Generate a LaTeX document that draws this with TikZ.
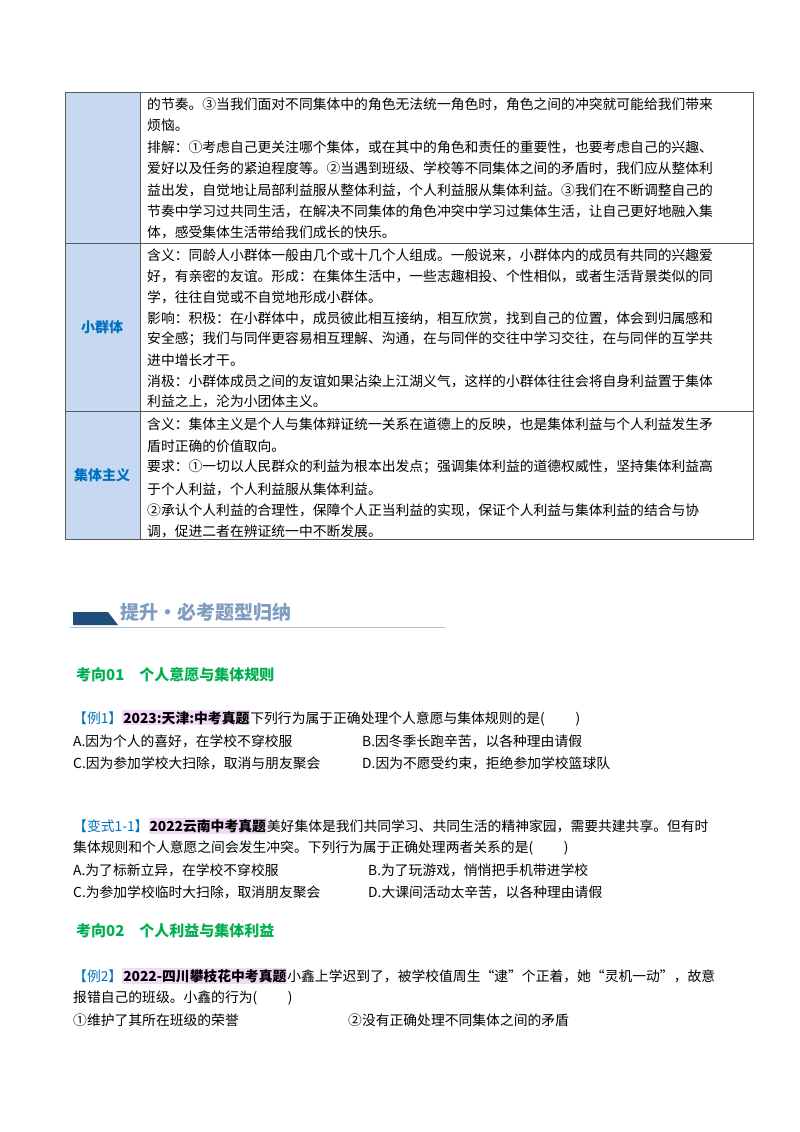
\documentclass[tikz,border=0pt]{standalone}
\usepackage{fontspec}
\setmainfont{Noto Sans CJK SC}
\definecolor{cellblue}{HTML}{C6D9F0}
\definecolor{lblblue}{HTML}{0070C0}
\definecolor{kgreen}{HTML}{00B050}
\definecolor{hdblue}{HTML}{1F4E79}
\definecolor{hdtext}{HTML}{7F9DBE}
\definecolor{hilite}{HTML}{F2D9F7}
\begin{document}
\begin{tikzpicture}[x=1pt,y=-1pt]

  \tikzstyle{line}=[anchor=west,inner sep=0pt,font=\fontsize{13.8}{14}\selectfont]
  \tikzstyle{lbl}=[font=\fontsize{14}{15}\selectfont\bfseries,text=lblblue]
  \tikzstyle{kx}=[anchor=west,inner sep=0pt,font=\fontsize{15}{16}\selectfont\bfseries,text=kgreen]
  \tikzstyle{src}=[inner sep=1pt,fill=hilite,font=\bfseries]

  \useasboundingbox[fill=white] (0,0) rectangle (800,1132);

  % table
  \fill[cellblue] (65,92) rectangle (140,539);
  \draw[gray!70!black,line width=0.8pt] (65,92) rectangle (753,539);
  \draw[gray!70!black] (140,92) -- (140,539);
  \draw[gray!70!black] (65,243) -- (753,243);
  \draw[gray!70!black] (65,411) -- (753,411);

  \node[lbl] (L-2) at (102,327) {小群体};
  \node[lbl] (L-3) at (102,475) {集体主义};

  \foreach \y/\t in {104/{的节奏。③当我们面对不同集体中的角色无法统一角色时，角色之间的冲突就可能给我们带来},
                     125/{烦恼。},
                     147/{排解：①考虑自己更关注哪个集体，或在其中的角色和责任的重要性，也要考虑自己的兴趣、},
                     168/{爱好以及任务的紧迫程度等。②当遇到班级、学校等不同集体之间的矛盾时，我们应从整体利},
                     190/{益出发，自觉地让局部利益服从整体利益，个人利益服从集体利益。③我们在不断调整自己的},
                     211/{节奏中学习过共同生活，在解决不同集体的角色冲突中学习过集体生活，让自己更好地融入集},
                     232/{体，感受集体生活带给我们成长的快乐。}}
    \node[line] at (147,\y) {\t};

  \foreach \y/\t in {255/{含义：同龄人小群体一般由几个或十几个人组成。一般说来，小群体内的成员有共同的兴趣爱},
                     276/{好，有亲密的友谊。形成：在集体生活中，一些志趣相投、个性相似，或者生活背景类似的同},
                     297/{学，往往自觉或不自觉地形成小群体。},
                     318/{影响：积极：在小群体中，成员彼此相互接纳，相互欣赏，找到自己的位置，体会到归属感和},
                     339/{安全感；我们与同伴更容易相互理解、沟通，在与同伴的交往中学习交往，在与同伴的互学共},
                     360/{进中增长才干。},
                     381/{消极：小群体成员之间的友谊如果沾染上江湖义气，这样的小群体往往会将自身利益置于集体},
                     401/{利益之上，沦为小团体主义。}}
    \node[line] at (147,\y) {\t};

  \foreach \y/\t in {424/{含义：集体主义是个人与集体辩证统一关系在道德上的反映，也是集体利益与个人利益发生矛},
                     446/{盾时正确的价值取向。},
                     467/{要求：①一切以人民群众的利益为根本出发点；强调集体利益的道德权威性，坚持集体利益高},
                     489/{于个人利益，个人利益服从集体利益。},
                     510/{②承认个人利益的合理性，保障个人正当利益的实现，保证个人利益与集体利益的结合与协},
                     531/{调，促进二者在辨证统一中不断发展。}}
    \node[line] at (147,\y) {\t};

  % header
  \fill[hdblue] (73,612) -- (108,612) -- (118,625) -- (73,625) -- cycle;
  \node[anchor=west,inner sep=0pt,font=\fontsize{19}{20}\selectfont\bfseries,text=hdtext] (head) at (120,612) {提升·必考题型归纳};
  \draw[hdtext!60,line width=1pt] (70,627) -- (445,627);

  \node[kx] (k-1) at (76,675) {考向01\quad 个人意愿与集体规则};
  \node[line] (e-1) at (73,718) {\textcolor{lblblue}{【例1】}\tikz[baseline=(s.base)]\node[src](s){2023:天津:中考真题};下列行为属于正确处理个人意愿与集体规则的是(\qquad\ )};
  \node[line] (e-1a) at (73,741) {A.因为个人的喜好，在学校不穿校服};
  \node[line] (e-1b) at (362,741) {B.因冬季长跑辛苦，以各种理由请假};
  \node[line] (e-1c) at (73,763) {C.因为参加学校大扫除，取消与朋友聚会};
  \node[line] (e-1d) at (362,763) {D.因为不愿受约束，拒绝参加学校篮球队};

  \node[line] (v-1) at (73,826) {\textcolor{lblblue}{【变式1-1】}\tikz[baseline=(s.base)]\node[src](s){2022云南中考真题};美好集体是我们共同学习、共同生活的精神家园，需要共建共享。但有时};
  \node[line] (v-1x) at (73,848) {集体规则和个人意愿之间会发生冲突。下列行为属于正确处理两者关系的是(\qquad\ )};
  \node[line] (v-1a) at (73,870) {A.为了标新立异，在学校不穿校服};
  \node[line] (v-1b) at (368,870) {B.为了玩游戏，悄悄把手机带进学校};
  \node[line] (v-1c) at (73,892) {C.为参加学校临时大扫除，取消朋友聚会};
  \node[line] (v-1d) at (368,892) {D.大课间活动太辛苦，以各种理由请假};

  \node[kx] (k-2) at (76,931) {考向02\quad 个人利益与集体利益};
  \node[line] (e-2) at (73,976) {\textcolor{lblblue}{【例2】}\tikz[baseline=(s.base)]\node[src](s){2022-四川攀枝花中考真题};小鑫上学迟到了，被学校值周生“逮”个正着，她“灵机一动”，故意};
  \node[line] (e-2x) at (73,998) {报错自己的班级。小鑫的行为(\qquad\ )};
  \node[line] (e-2a) at (73,1020) {①维护了其所在班级的荣誉};
  \node[line] (e-2b) at (348,1020) {②没有正确处理不同集体之间的矛盾};
\end{tikzpicture}
\end{document}
